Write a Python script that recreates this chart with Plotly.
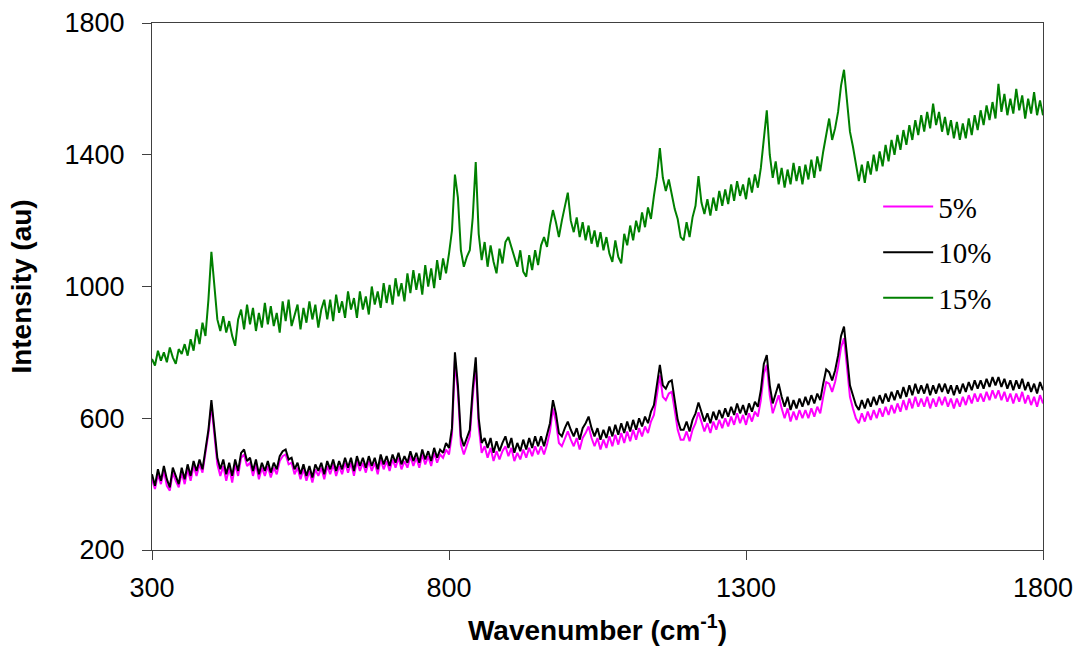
import plotly.graph_objects as go

wavenumber = list(range(300, 1801, 5))

int_5 = [
    415, 385, 430, 400, 440, 395, 380, 435, 410, 390,
    435, 400, 445, 410, 455, 425, 460, 435, 495, 555,
    640, 560, 460, 425, 455, 410, 450, 405, 460, 425,
    480, 490, 455, 465, 425, 460, 415, 450, 425, 455,
    420, 450, 430, 470, 485, 490, 460, 465, 430, 450,
    415, 445, 410, 440, 405, 445, 425, 450, 415, 455,
    430, 460, 425, 455, 430, 465, 435, 465, 425, 470,
    440, 465, 435, 470, 440, 465, 430, 475, 445, 470,
    440, 475, 450, 480, 445, 470, 450, 485, 455, 480,
    450, 490, 460, 485, 455, 495, 465, 490, 480, 505,
    490, 550, 775, 680, 520, 490, 515, 545, 665, 765,
    575, 495, 515, 480, 510, 470, 500, 475, 500, 515,
    485, 510, 470, 495, 475, 505, 480, 510, 485, 515,
    490, 515, 490, 520, 560, 630, 590, 525, 515, 540,
    560, 535, 515, 540, 505, 540, 555, 575, 540, 515,
    540, 505, 535, 510, 545, 515, 550, 520, 555, 525,
    560, 530, 565, 535, 570, 545, 575, 555, 590, 610,
    670, 730, 665, 655, 675, 680, 625, 565, 535, 535,
    560, 530, 565, 585, 618, 590, 560, 585, 555, 590,
    565, 595, 570, 600, 575, 605, 580, 615, 585, 610,
    580, 615, 590, 620, 605, 655, 735, 762, 670, 615,
    640, 670, 630, 600, 630, 590, 620, 595, 625, 600,
    625, 600, 630, 605, 635, 615, 665, 710, 705, 680,
    710, 755, 815, 843, 755, 665, 630, 600, 585, 615,
    590, 620, 595, 625, 600, 630, 605, 635, 610, 640,
    615, 645, 620, 655, 625, 660, 630, 665, 635, 660,
    635, 665, 630, 660, 635, 665, 640, 665, 635, 660,
    630, 660, 635, 665, 640, 670, 645, 675, 650, 675,
    650, 680, 655, 685, 660, 685, 655, 680, 650, 675,
    645, 675, 650, 680, 645, 670, 640, 665, 635, 670,
    645,
]

int_10 = [
    430, 395, 445, 410, 455, 415, 390, 450, 425, 400,
    450, 415, 460, 425, 470, 440, 475, 445, 505, 565,
    655, 575, 480, 445, 475, 430, 465, 425, 475, 440,
    495, 505, 470, 480, 440, 475, 430, 465, 440, 470,
    435, 465, 445, 485, 500, 505, 475, 480, 445, 465,
    430, 460, 425, 455, 420, 460, 440, 465, 430, 470,
    445, 475, 440, 470, 445, 480, 450, 480, 440, 485,
    455, 480, 450, 485, 455, 480, 445, 490, 460, 485,
    455, 490, 465, 495, 460, 485, 465, 500, 470, 495,
    465, 505, 475, 500, 470, 510, 480, 505, 495, 525,
    510, 570, 800, 700, 545, 515, 540, 565, 690, 785,
    600, 525, 540, 510, 540, 495, 530, 500, 525, 545,
    510, 540, 495, 525, 500, 535, 505, 540, 510, 545,
    515, 545, 515, 550, 585, 655, 615, 555, 545, 570,
    590, 565, 545, 570, 535, 570, 585, 605, 570, 545,
    570, 535, 565, 540, 575, 545, 580, 550, 585, 555,
    590, 560, 595, 565, 600, 575, 605, 585, 620, 640,
    700, 762, 700, 690, 710, 715, 655, 595, 565, 565,
    590, 560, 595, 615, 648, 620, 590, 615, 585, 620,
    595, 625, 600, 630, 605, 635, 610, 645, 615, 640,
    610, 645, 620, 650, 635, 685, 765, 792, 700, 645,
    675, 705, 665, 635, 665, 625, 655, 630, 660, 635,
    665, 640, 670, 645, 675, 655, 705, 748, 740, 715,
    745, 790, 850, 878, 790, 700, 670, 640, 625, 655,
    630, 660, 635, 665, 640, 670, 645, 675, 650, 680,
    655, 685, 660, 695, 665, 700, 670, 705, 675, 700,
    675, 705, 670, 700, 675, 705, 680, 705, 675, 700,
    670, 700, 675, 705, 680, 710, 685, 715, 690, 715,
    690, 720, 695, 725, 700, 725, 695, 720, 690, 715,
    685, 715, 690, 720, 685, 710, 680, 705, 675, 710,
    685,
]

int_15 = [
    780, 760, 805, 775, 800, 770, 815, 785, 765, 810,
    795, 825, 790, 840, 805, 870, 825, 890, 850, 960,
    1105, 990, 900, 865, 910, 860, 895, 850, 820, 900,
    930, 870, 945, 885, 935, 865, 920, 875, 950, 885,
    940, 880, 920, 860, 955, 895, 960, 880, 915, 945,
    870, 935, 890, 955, 900, 945, 875, 930, 960, 900,
    960, 895, 975, 920, 955, 905, 985, 930, 965, 905,
    985, 930, 970, 915, 1000, 945, 985, 935, 1010, 950,
    1005, 945, 1025, 970, 1010, 955, 1040, 980, 1050, 990,
    1040, 975, 1065, 1000, 1055, 995, 1080, 1020, 1085, 1040,
    1100, 1170, 1340, 1270, 1110, 1060, 1090, 1110, 1210, 1378,
    1160, 1080, 1135, 1060, 1125, 1075, 1040, 1115, 1070, 1135,
    1150, 1120, 1090, 1060, 1110, 1045, 1030, 1095, 1050, 1110,
    1065, 1125, 1150, 1120, 1185, 1232, 1195, 1150, 1200, 1240,
    1285, 1200, 1165, 1210, 1150, 1195, 1140, 1185, 1130, 1170,
    1120, 1165, 1110, 1150, 1100, 1075, 1140, 1090, 1070, 1160,
    1125, 1185, 1140, 1200, 1165, 1225, 1180, 1240, 1205, 1275,
    1335, 1420, 1330, 1290, 1325, 1280, 1235, 1205, 1150, 1140,
    1195, 1150, 1210, 1245, 1335, 1255, 1220, 1265, 1215, 1270,
    1230, 1290, 1245, 1295, 1250, 1310, 1260, 1320, 1275, 1310,
    1265, 1330, 1285, 1340, 1300, 1360, 1450, 1535, 1400, 1330,
    1380, 1310, 1360, 1300, 1355, 1310, 1375, 1320, 1365, 1310,
    1370, 1325, 1385, 1330, 1395, 1350, 1410, 1465, 1510, 1445,
    1480, 1530, 1610, 1658, 1570, 1470, 1425, 1375, 1320, 1370,
    1315, 1380, 1340, 1400, 1350, 1410, 1365, 1430, 1380, 1445,
    1400, 1460, 1415, 1475, 1430, 1490, 1445, 1505, 1460, 1520,
    1470, 1530, 1480, 1555, 1490, 1530, 1470, 1515, 1460, 1505,
    1450, 1500, 1445, 1495, 1450, 1510, 1460, 1520, 1475, 1535,
    1490, 1550, 1505, 1560, 1510, 1615, 1530, 1585, 1520, 1570,
    1525, 1600, 1535, 1580, 1510, 1570, 1525, 1590, 1520, 1565,
    1520,
]

series_names = ["5%", "10%", "15%"]
series_colors = ["#FF00FF", "#000000", "#008000"]
series_values = [int_5, int_10, int_15]

y_ticks = [200, 600, 1000, 1400, 1800]
x_ticks = [300, 800, 1300, 1800]

fig = go.Figure()
for name, color, vals in zip(series_names, series_colors, series_values):
    fig.add_trace(go.Scatter(
        x=wavenumber, y=vals, mode="lines", name=name,
        line=dict(color=color, width=2),
        legendgroup=name,
    ))

axis_common = dict(
    showgrid=False, zeroline=False, showline=True, linecolor="#404040",
    linewidth=1.2, mirror=True, ticks="outside", ticklen=9, tickwidth=1,
    tickcolor="#404040", automargin=False,
    tickfont=dict(family="Liberation Sans, Arial", size=27, color="#000000"),
)

fig.update_layout(
    width=1080, height=654,
    paper_bgcolor="white", plot_bgcolor="white",
    margin=dict(l=152, r=37, t=23, b=104),
    showlegend=True,
    legend=dict(
        x=0.815, y=0.70, xanchor="left", yanchor="top",
        font=dict(family="Liberation Serif, Times New Roman", size=29, color="#000000"),
        bgcolor="rgba(0,0,0,0)", traceorder="grouped", tracegroupgap=5,
        itemwidth=50,
    ),
)
fig.update_xaxes(
    range=[300, 1800], tickvals=x_ticks, ticklabelstandoff=4,
    title=dict(text="Wavenumber (cm<sup>-1</sup>)", standoff=18,
               font=dict(family="Liberation Sans, Arial", size=28, color="#000000", weight="bold")),
    **axis_common,
)
fig.update_yaxes(
    range=[200, 1800], tickvals=y_ticks, ticklabelstandoff=12,
    title=dict(text="Intensity (au)", standoff=24,
               font=dict(family="Liberation Sans, Arial", size=28, color="#000000", weight="bold")),
    **axis_common,
)

fig.write_html("out.html")
